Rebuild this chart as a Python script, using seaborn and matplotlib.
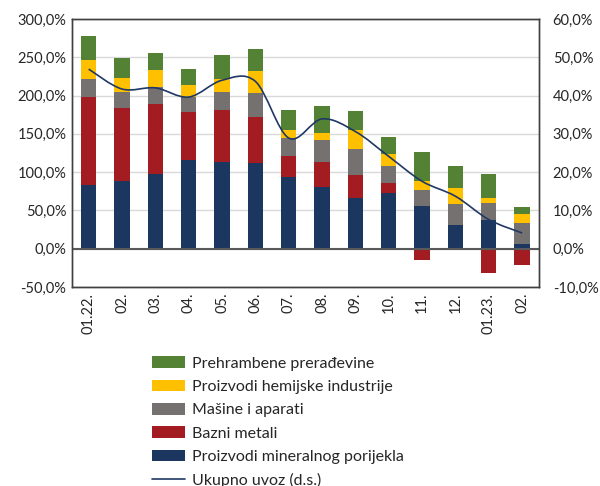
import numpy as np
import pandas as pd
import matplotlib
matplotlib.use("Agg")
import matplotlib.pyplot as plt
from matplotlib.path import Path
from matplotlib.patches import PathPatch, Patch
from matplotlib.lines import Line2D
import seaborn as sns

months = ["01.22.", "02.", "03.", "04.", "05.", "06.", "07.", "08.", "09.", "10.", "11.", "12.", "01.23.", "02."]
mineral = [83.5, 88, 98, 116, 113, 112, 94, 80.5, 66.6, 72.7, 56, 31, 37, 5.6]
metali = [115, 95.7, 90.6, 63, 68.7, 60.4, 27.4, 32.7, 29.1, 12.6, -14.8, -2.2, -31.7, -21.8]
masine = [23.5, 20.4, 22, 19.6, 23, 31.3, 23.1, 28.7, 33.9, 22.7, 20, 27, 23, 27.4]
hemija = [24, 18.8, 23, 15.3, 17, 28.8, 10.9, 9.1, 25.8, 16, 11.8, 21.8, 6.6, 12.3]
hrana = [32, 26.1, 21.4, 21, 31, 28, 25.6, 35.7, 23.8, 21.3, 38.7, 27.8, 31.3, 9.1]
ukupno = [46.9, 41.7, 42.0, 39.6, 44.0, 43.7, 28.9, 33.9, 30.6, 24.1, 17.6, 13.7, 7.6, 4.1]

series = [
    ("Proizvodi mineralnog porijekla", mineral, "#1B365F"),
    ("Bazni metali", metali, "#A31C22"),
    ("Mašine i aparati", masine, "#767171"),
    ("Proizvodi hemijske industrije", hemija, "#FFC000"),
    ("Prehrambene prerađevine", hrana, "#548235"),
]

sns.set_theme(style="white")
plt.rcParams["font.family"] = ["Lato", "DejaVu Sans"]

fig = plt.figure(figsize=(6.0, 4.86), dpi=100)
ax = fig.add_axes([0.12, 0.4095, 0.778, 0.5515])

pos_base = np.zeros(len(months))
neg_base = np.zeros(len(months))
for name, vals, col in series:
    v = np.array(vals, dtype=float)
    bottoms = np.where(v >= 0, pos_base, neg_base)
    df = pd.DataFrame({"m": list(range(len(months))), "v": v})
    sns.barplot(data=df, x="m", y="v", color=col, saturation=1, width=0.46,
                errorbar=None, bottom=bottoms, linewidth=0, ax=ax, native_scale=False)
    pos_base = pos_base + np.where(v >= 0, v, 0)
    neg_base = neg_base + np.where(v < 0, v, 0)

ax.set_xlim(-0.5, len(months) - 0.5)
ax.set_ylim(-50, 300)
ax.set_yticks(np.arange(-50, 301, 50))
ax.set_yticklabels([f"{t:.1f}%".replace(".", ",") for t in np.arange(-50, 301, 50)], fontsize=10.5)
ax.set_xticks(range(len(months)))
ax.set_xticklabels(months, rotation=90, fontsize=10.5)
ax.set_xlabel("")
ax.set_ylabel("")
ax.grid(axis="y", color="#D9D9D9", linewidth=1)
ax.set_axisbelow(True)
ax.axhline(0, color="#595959", linewidth=1.5, zorder=5)
for s in ax.spines.values():
    s.set_color("#404040")
    s.set_linewidth(1)
ax.tick_params(length=0, pad=4)

ax2 = ax.twinx()
ax2.set_ylim(-10, 60)
ax2.set_yticks(np.arange(-10, 61, 10))
ax2.set_yticklabels([f"{t:.1f}%".replace(".", ",") for t in np.arange(-10, 61, 10)], fontsize=10.5)
ax2.tick_params(length=0, pad=10)
ax2.grid(False)
for s in ax2.spines.values():
    s.set_color("#404040")
    s.set_linewidth(1)

# smoothed line (Bezier through the data points)
xs = np.arange(len(months), dtype=float)
ys = np.array(ukupno, dtype=float)
pts = np.column_stack([xs, ys])
verts = [tuple(pts[0])]
codes = [Path.MOVETO]
n = len(pts)
for i in range(n - 1):
    p0 = pts[i - 1] if i > 0 else pts[i]
    p1 = pts[i]
    p2 = pts[i + 1]
    p3 = pts[i + 2] if i + 2 < n else pts[i + 1]
    c1 = p1 + (p2 - p0) / 6.0
    c2 = p2 - (p3 - p1) / 6.0
    verts += [tuple(c1), tuple(c2), tuple(p2)]
    codes += [Path.CURVE4] * 3
ax2.add_patch(PathPatch(Path(verts, codes), facecolor="none", edgecolor="#1F3864", linewidth=1.2, zorder=6))

handles = [Patch(facecolor=c, edgecolor="none") for _, _, c in series[::-1]]
labels = [nm for nm, _, _ in series[::-1]]
handles.append(Line2D([0], [0], color="#1F3864", linewidth=1.2))
labels.append("Ukupno uvoz (d.s.)")
fig.legend(handles, labels, loc="upper left", bbox_to_anchor=(0.253, 0.267), frameon=False,
           fontsize=11.5, handlelength=2.07, handleheight=0.75, labelspacing=0.56, handletextpad=0.43,
           borderaxespad=0, borderpad=0)

fig.savefig("out.png", dpi=100)
